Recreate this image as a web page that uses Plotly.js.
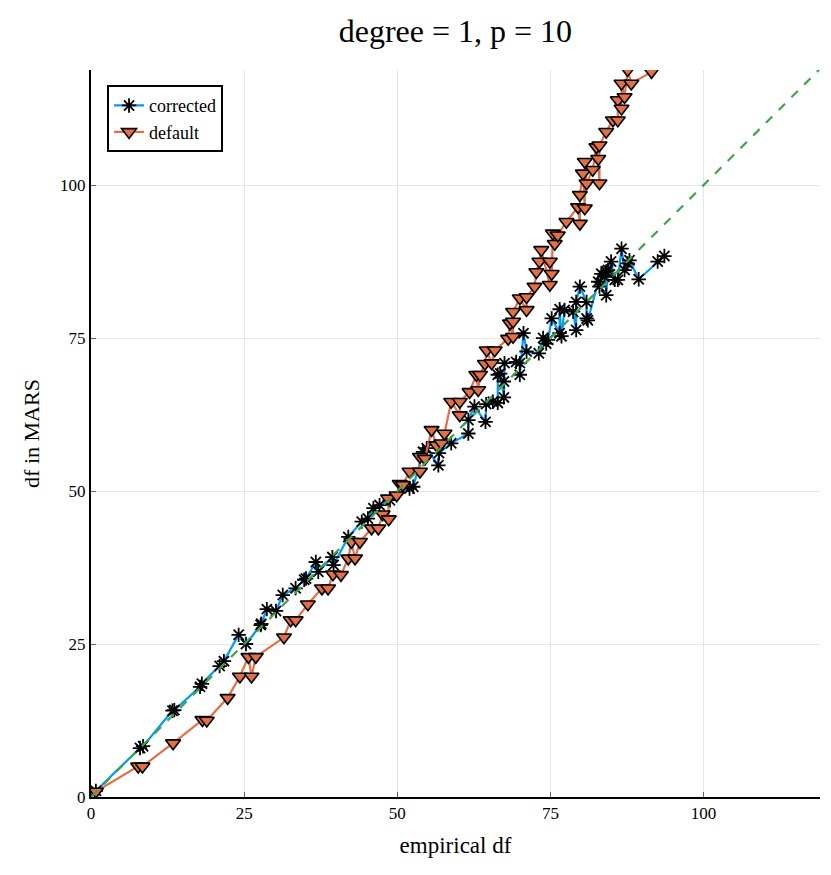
<!DOCTYPE html>
<html>
<head>
<meta charset="utf-8">
<script src="https://cdn.plot.ly/plotly-3.0.1.min.js"></script>
<style>
  html, body { margin: 0; padding: 0; background: #fff; }
  #chart { width: 831px; height: 875px; }
</style>
</head>
<body>
<div id="chart"></div>
<script>
// corrected df: empirical df (x) vs df in MARS (y)
const correctedX = [0.8, 8.0, 8.5, 13.3, 13.6, 17.8, 18.1, 21.0, 21.7, 24.1, 25.3, 27.7, 27.8, 28.7, 30.2,
  31.3, 33.4, 34.8, 35.1, 36.7, 37.1, 39.4, 39.6, 42.0, 44.2, 45.2, 46.1, 47.1, 48.8, 52.0, 52.6,
  54.2, 54.8, 56.7, 56.8, 58.8, 61.6, 61.6, 62.6, 64.4, 64.5, 65.6, 66.4, 66.4, 66.8, 67.4, 67.4,
  67.5, 69.4, 70.0, 70.0, 70.6, 71.1, 73.1, 73.8, 74.3, 74.6, 75.2, 76.5, 76.5, 76.8, 77.3, 78.7,
  79.2, 79.2, 79.8, 80.9, 80.9, 81.1, 82.8, 83.0, 83.3, 83.8, 84.1, 84.1, 84.4, 84.9, 85.5, 86.0,
  86.6, 87.1, 87.6, 87.9, 89.4, 92.5, 93.6];
const correctedY = [1.0, 8.0, 8.3, 14.1, 14.2, 18.0, 18.5, 21.4, 22.2, 26.5, 25.0, 28.1, 28.3, 30.7, 30.4,
  33.0, 34.1, 35.5, 35.7, 38.4, 36.8, 39.2, 37.9, 42.5, 45.0, 45.5, 47.2, 47.7, 48.5, 50.4, 50.7,
  56.4, 57.0, 54.2, 56.2, 57.8, 59.4, 61.6, 63.8, 61.3, 64.2, 64.6, 64.4, 69.0, 69.2, 65.3, 67.9,
  70.9, 71.1, 70.9, 69.0, 75.8, 72.8, 72.5, 75.0, 74.1, 74.7, 78.2, 75.8, 79.7, 75.3, 79.6, 79.3,
  76.3, 80.9, 83.4, 80.9, 78.2, 77.9, 84.2, 83.4, 85.5, 85.0, 85.9, 82.0, 86.1, 87.5, 84.5, 84.5,
  89.6, 86.1, 87.2, 87.7, 84.6, 87.5, 88.4];

// default df
const defaultX = [0.8, 7.7, 8.4, 13.4, 18.2, 18.9, 22.3, 24.3, 25.7, 26.2, 26.9, 31.5, 32.6, 33.4, 35.4,
  37.7, 38.7, 39.5, 40.8, 42.0, 42.5, 43.1, 43.9, 45.8, 46.9, 47.6, 48.6, 48.5, 49.9, 50.4, 50.9,
  52.0, 53.7, 53.7, 54.5, 55.6, 56.4, 57.2, 57.7, 58.8, 60.2, 60.2, 61.8, 62.9, 63.2, 63.5, 64.3,
  64.6, 65.4, 65.9, 68.1, 68.4, 68.9, 68.9, 68.9, 70.0, 71.1, 71.1, 72.4, 72.7, 73.2, 73.5, 74.9,
  74.9, 75.2, 75.4, 75.7, 76.2, 77.6, 79.5, 79.8, 79.8, 80.3, 80.6, 80.6, 80.9, 81.9, 82.5, 82.8,
  83.0, 83.0, 84.1, 85.2, 86.0, 86.0, 86.6, 86.6, 87.1, 87.6, 88.2, 91.5];
const defaultY = [0.9, 5.0, 5.0, 8.8, 12.6, 12.5, 16.2, 19.7, 22.9, 19.7, 22.9, 26.1, 28.9, 28.9, 31.5,
  34.1, 34.1, 36.4, 36.3, 39.0, 41.7, 39.0, 41.7, 43.9, 43.9, 46.2, 45.4, 48.8, 49.3, 51.2, 51.0,
  53.2, 53.2, 55.6, 55.3, 60.0, 57.5, 57.8, 59.4, 64.6, 62.4, 64.6, 66.2, 69.0, 66.5, 69.0, 70.8,
  73.0, 70.9, 73.0, 74.9, 77.4, 75.2, 77.7, 79.3, 81.5, 79.6, 81.7, 83.4, 85.8, 87.5, 89.4, 83.7,
  87.5, 85.5, 92.1, 90.4, 91.8, 94.0, 96.4, 93.7, 98.4, 101.9, 96.2, 103.8, 100.3, 102.5, 106.2, 104.3,
  100.3, 106.5, 108.7, 110.6, 110.6, 113.9, 112.5, 116.6, 114.4, 118.8, 116.6, 118.5];

// identity reference line
const diagX = [0, 120];
const diagY = [0, 120];

const serif = '"Liberation Serif", "DejaVu Serif", serif';

const traces = [
  {
    x: correctedX, y: correctedY, name: 'corrected',
    mode: 'lines+markers', type: 'scatter',
    line: {color: '#009AFA', width: 2.2},
    marker: {symbol: 'asterisk-open', size: 12, color: '#000', line: {color: '#000', width: 1.8}}
  },
  {
    x: defaultX, y: defaultY, name: 'default',
    mode: 'lines+markers', type: 'scatter',
    line: {color: '#E26F46', width: 2.2},
    marker: {symbol: 'triangle-down', size: 13, color: '#E26F46', line: {color: '#000', width: 1.6}}
  },
  {
    x: diagX, y: diagY, showlegend: false, hoverinfo: 'skip',
    mode: 'lines', type: 'scatter',
    line: {color: '#3DA44D', width: 2.2, dash: 'dash'}
  }
];

const axisCommon = {
  showgrid: true, gridcolor: '#e6e6e6', gridwidth: 1,
  zeroline: false,
  showline: true, linecolor: '#000', linewidth: 2,
  ticks: 'inside', ticklen: 5, tickcolor: '#666', tickwidth: 1,
  tickfont: {family: serif, size: 17, color: '#000'},
  tickvals: [0, 25, 50, 75, 100]
};

const layout = {
  width: 831, height: 875,
  margin: {l: 91, r: 11, t: 70, b: 78},
  paper_bgcolor: '#fff', plot_bgcolor: '#fff',
  title: {text: 'degree = 1, p = 10', font: {family: serif, size: 32, color: '#000'},
          x: 0.548, xanchor: 'center', y: 0.965, yanchor: 'middle'},
  xaxis: Object.assign({}, axisCommon, {
    range: [0, 119],
    title: {text: 'empirical df', font: {family: serif, size: 23, color: '#000'}, standoff: 14}
  }),
  yaxis: Object.assign({}, axisCommon, {
    range: [0, 118.8],
    title: {text: 'df in MARS', font: {family: serif, size: 22, color: '#000'}, standoff: 14}
  }),
  legend: {
    x: 0.022, y: 0.979, xanchor: 'left', yanchor: 'top',
    bgcolor: '#fff', bordercolor: '#000', borderwidth: 2,
    font: {family: serif, size: 18, color: '#000'},
    tracegroupgap: 4
  },
  showlegend: true
};

Plotly.newPlot('chart', traces, layout, {displayModeBar: false, staticPlot: true});
</script>
</body>
</html>
